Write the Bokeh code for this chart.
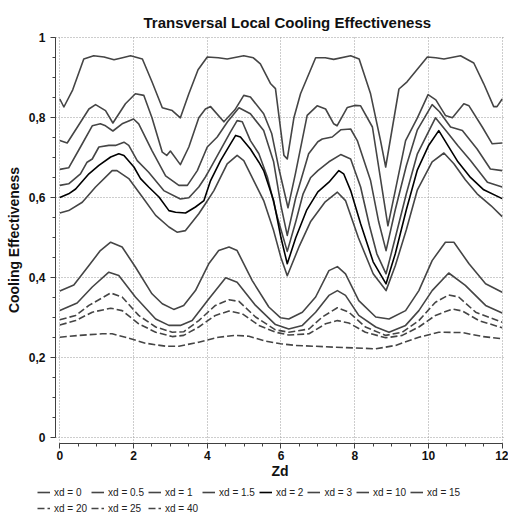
from bokeh.plotting import figure
from bokeh.models import Range1d, FixedTicker, CustomJSTickFormatter, Legend, LegendItem
from bokeh.embed import file_html
from bokeh.resources import INLINE

# ---------------- data ----------------
series_names = ["xd = 0", "xd = 0.5", "xd = 1", "xd = 1.5", "xd = 2", "xd = 3",
                "xd = 10", "xd = 15", "xd = 20", "xd = 25", "xd = 40"]

x_xd0 = [0, 0.11, 0.35, 0.65, 0.92, 1.2, 1.47, 1.7, 1.92, 2.24, 2.5, 2.78, 3.05, 3.27, 3.5, 3.75, 4.0, 4.3, 4.54,
         4.99, 5.25, 5.44, 5.72, 5.85, 6.0, 6.08, 6.17, 6.35, 6.53, 6.94, 7.2, 7.43, 7.89, 8.12, 8.43, 8.7, 8.84,
         9.2, 9.42, 9.97, 10.2, 10.42, 10.87, 11.23, 11.5, 11.77, 11.86, 12.0]
y_xd0 = [0.847, 0.827, 0.87, 0.947, 0.955, 0.952, 0.945, 0.95, 0.955, 0.947, 0.89, 0.825, 0.818, 0.80, 0.86, 0.92,
         0.952, 0.95, 0.947, 0.955, 0.95, 0.935, 0.885, 0.873, 0.764, 0.706, 0.697, 0.80, 0.86, 0.95, 0.95, 0.946,
         0.955, 0.947, 0.86, 0.743, 0.677, 0.872, 0.89, 0.952, 0.95, 0.947, 0.955, 0.937, 0.885, 0.828, 0.828, 0.847]

x_xd05 = [0, 0.2, 0.5, 0.79, 0.97, 1.24, 1.44, 1.78, 2.05, 2.28, 2.5, 2.78, 2.9, 3.0, 3.27, 3.5, 3.77, 3.95, 4.09,
          4.45, 4.75, 4.99, 5.17, 5.53, 5.75, 5.95, 6.19, 6.39, 6.71, 6.98, 7.21, 7.43, 7.52, 7.8, 8.0, 8.16, 8.48,
          8.75, 8.9, 9.1, 9.38, 9.7, 9.99, 10.2, 10.46, 10.65, 10.96, 11.1, 11.46, 11.73, 12.0]
y_xd05 = [0.743, 0.737, 0.78, 0.822, 0.833, 0.818, 0.787, 0.835, 0.86, 0.856, 0.80, 0.714, 0.706, 0.717, 0.683,
          0.727, 0.80, 0.822, 0.828, 0.79, 0.82, 0.856, 0.852, 0.81, 0.76, 0.67, 0.575, 0.66, 0.806, 0.83, 0.822,
          0.785, 0.78, 0.826, 0.831, 0.83, 0.777, 0.618, 0.53, 0.618, 0.743, 0.80, 0.858, 0.845, 0.806, 0.80,
          0.835, 0.83, 0.777, 0.735, 0.737]

x_xd1 = [0, 0.24, 0.56, 0.88, 1.1, 1.24, 1.44, 1.69, 2.0, 2.14, 2.5, 2.87, 3.23, 3.46, 3.73, 4.0, 4.27, 4.55, 4.86,
         5.17, 5.53, 5.8, 6.0, 6.17, 6.4, 6.75, 7.0, 7.12, 7.39, 7.62, 7.89, 8.07, 8.43, 8.65, 8.85, 9.1, 9.4, 9.7,
         10.1, 10.3, 10.6, 10.92, 11.32, 11.68, 12.0]
y_xd1 = [0.671, 0.675, 0.727, 0.78, 0.785, 0.78, 0.767, 0.785, 0.797, 0.785, 0.718, 0.655, 0.631, 0.631, 0.668,
         0.727, 0.752, 0.79, 0.825, 0.81, 0.768, 0.69, 0.58, 0.506, 0.60, 0.71, 0.74, 0.747, 0.752, 0.77, 0.772,
         0.743, 0.643, 0.54, 0.468, 0.57, 0.68, 0.77, 0.833, 0.815, 0.777, 0.768, 0.722, 0.672, 0.668]

x_xd15 = [0, 0.24, 0.56, 0.74, 0.88, 1.06, 1.33, 1.51, 1.74, 1.87, 2.1, 2.41, 2.82, 3.27, 3.5, 3.77, 3.95, 4.09,
          4.36, 4.63, 4.81, 4.95, 5.17, 5.4, 5.63, 5.9, 6.17, 6.4, 6.6, 6.8, 7.0, 7.3, 7.62, 7.89, 8.16, 8.4, 8.6,
          8.85, 9.1, 9.4, 9.7, 10.19, 10.51, 10.8, 11.14, 11.6, 12.0]
y_xd15 = [0.631, 0.635, 0.66, 0.689, 0.697, 0.727, 0.731, 0.731, 0.739, 0.731, 0.693, 0.664, 0.618, 0.597, 0.60,
          0.627, 0.652, 0.675, 0.72, 0.765, 0.793, 0.79, 0.743, 0.71, 0.652, 0.552, 0.466, 0.54, 0.61, 0.65, 0.668,
          0.69, 0.708, 0.697, 0.627, 0.53, 0.46, 0.41, 0.50, 0.61, 0.71, 0.80, 0.764, 0.73, 0.693, 0.639, 0.627]

x_xd2 = [0, 0.24, 0.43, 0.79, 1.06, 1.38, 1.6, 1.74, 2.01, 2.19, 2.41, 2.69, 2.96, 3.14, 3.41, 3.68, 3.91, 4.09,
         4.36, 4.63, 4.77, 4.9, 5.17, 5.4, 5.53, 5.8, 6.0, 6.17, 6.4, 6.7, 7.0, 7.3, 7.57, 7.7, 7.89, 8.16, 8.5,
         8.85, 9.1, 9.4, 9.7, 10.0, 10.28, 10.5, 10.8, 11.14, 11.5, 12.0]
y_xd2 = [0.601, 0.61, 0.622, 0.66, 0.681, 0.702, 0.71, 0.706, 0.677, 0.648, 0.627, 0.602, 0.568, 0.564, 0.562,
         0.577, 0.593, 0.643, 0.693, 0.735, 0.756, 0.752, 0.722, 0.689, 0.668, 0.593, 0.50, 0.435, 0.50, 0.57,
         0.615, 0.639, 0.668, 0.66, 0.618, 0.535, 0.44, 0.385, 0.46, 0.57, 0.67, 0.73, 0.768, 0.735, 0.69, 0.651,
         0.62, 0.598]

x_xd3 = [0, 0.24, 0.61, 0.97, 1.42, 1.55, 1.87, 2.24, 2.6, 2.96, 3.18, 3.41, 3.77, 3.95, 4.18, 4.54, 4.81, 4.99,
         5.26, 5.53, 5.8, 6.0, 6.17, 6.5, 6.8, 7.2, 7.53, 7.75, 8.1, 8.5, 8.85, 9.1, 9.4, 9.7, 10.1, 10.42, 10.69,
         11.0, 11.32, 11.7, 12.0]
y_xd3 = [0.562, 0.568, 0.589, 0.627, 0.668, 0.668, 0.648, 0.602, 0.556, 0.527, 0.514, 0.518, 0.56, 0.585, 0.618,
         0.685, 0.706, 0.693, 0.643, 0.593, 0.518, 0.45, 0.405, 0.48, 0.54, 0.59, 0.614, 0.593, 0.50, 0.41, 0.368,
         0.43, 0.52, 0.62, 0.69, 0.712, 0.685, 0.645, 0.61, 0.58, 0.553]

x_xd10 = [0, 0.38, 0.79, 1.1, 1.38, 1.69, 2.05, 2.5, 2.78, 3.09, 3.36, 3.68, 4.04, 4.31, 4.59, 4.81, 5.22, 5.67,
          5.99, 6.21, 6.58, 6.94, 7.3, 7.53, 7.75, 8.11, 8.57, 8.93, 9.38, 9.74, 10.1, 10.46, 10.69, 11.1, 11.55,
          12.0]
y_xd10 = [0.367, 0.382, 0.431, 0.468, 0.489, 0.477, 0.427, 0.36, 0.335, 0.321, 0.331, 0.368, 0.435, 0.468, 0.477,
          0.468, 0.393, 0.327, 0.30, 0.297, 0.314, 0.352, 0.418, 0.428, 0.41, 0.343, 0.302, 0.297, 0.318, 0.368,
          0.443, 0.489, 0.489, 0.435, 0.385, 0.364]

x_xd15b = [0, 0.47, 0.88, 1.33, 1.6, 2.05, 2.6, 2.96, 3.27, 3.59, 4.04, 4.5, 4.81, 5.31, 5.85, 6.21, 6.58, 6.94,
           7.3, 7.53, 7.75, 8.11, 8.57, 8.93, 9.38, 9.74, 10.1, 10.55, 11.0, 11.55, 12.0]
y_xd15b = [0.318, 0.337, 0.377, 0.414, 0.406, 0.352, 0.297, 0.281, 0.281, 0.293, 0.347, 0.40, 0.389, 0.331, 0.283,
           0.272, 0.281, 0.314, 0.356, 0.368, 0.356, 0.306, 0.277, 0.264, 0.281, 0.318, 0.368, 0.412, 0.381, 0.331,
           0.312]

x_xd20 = [0, 0.43, 0.79, 1.38, 1.69, 2.14, 2.6, 3.05, 3.36, 3.77, 4.22, 4.59, 4.86, 5.31, 5.85, 6.21, 6.76, 7.12,
          7.53, 7.84, 8.29, 8.84, 9.29, 9.74, 10.19, 10.55, 10.82, 11.28, 12.0]
y_xd20 = [0.295, 0.306, 0.331, 0.362, 0.352, 0.306, 0.277, 0.264, 0.265, 0.293, 0.331, 0.345, 0.341, 0.302, 0.27,
          0.264, 0.272, 0.302, 0.325, 0.314, 0.277, 0.256, 0.264, 0.293, 0.339, 0.357, 0.352, 0.314, 0.289]

x_xd25 = [0, 0.43, 0.88, 1.38, 1.69, 2.14, 2.6, 3.05, 3.36, 3.77, 4.22, 4.59, 4.95, 5.4, 5.85, 6.21, 6.76, 7.21,
          7.53, 7.84, 8.29, 8.84, 9.29, 9.74, 10.19, 10.65, 10.92, 11.37, 12.0]
y_xd25 = [0.282, 0.293, 0.314, 0.324, 0.318, 0.285, 0.264, 0.253, 0.256, 0.277, 0.306, 0.317, 0.31, 0.281, 0.264,
          0.257, 0.26, 0.285, 0.293, 0.287, 0.264, 0.25, 0.256, 0.277, 0.306, 0.322, 0.317, 0.293, 0.275]

x_xd40 = [0, 0.52, 1.15, 1.42, 1.78, 2.32, 2.87, 3.23, 3.77, 4.31, 4.77, 5.13, 5.58, 5.99, 6.39, 7.48, 8.57, 9.11,
          9.74, 10.28, 10.92, 11.46, 12.0]
y_xd40 = [0.2515, 0.256, 0.26, 0.26, 0.2515, 0.2365, 0.229, 0.229, 0.239, 0.2515, 0.256, 0.254, 0.2415, 0.235,
          0.231, 0.2265, 0.2225, 0.231, 0.2515, 0.264, 0.263, 0.2533, 0.2475]

x_ticks = [0, 2, 4, 6, 8, 10, 12]
y_ticks = [0, 0.2, 0.4, 0.6, 0.8, 1.0]

series_x = [x_xd0, x_xd05, x_xd1, x_xd15, x_xd2, x_xd3, x_xd10, x_xd15b, x_xd20, x_xd25, x_xd40]
series_y = [y_xd0, y_xd05, y_xd1, y_xd15, y_xd2, y_xd3, y_xd10, y_xd15b, y_xd20, y_xd25, y_xd40]

# ---------------- main figure ----------------
FONT = "Liberation Sans"
p = figure(width=508, height=481, output_backend="svg", toolbar_location=None,
           x_range=Range1d(-0.117, 12.063), y_range=Range1d(-0.01425, 1.00325),
           min_border_left=55, min_border_right=4, min_border_top=36, min_border_bottom=38,
           title="Transversal Local Cooling Effectiveness")
p.outline_line_color = None
p.background_fill_color = "white"
p.border_fill_color = "white"

p.title.align = "left"
p.title.offset = 88
p.title.standoff = 12
p.title.text_font = FONT
p.title.text_font_size = "15px"
p.title.text_font_style = "bold"
p.title.text_color = "#111111"

minor_x = [0.5 * i for i in range(25)]
minor_y = [round(0.05 * i, 2) for i in range(21)]
p.xaxis.ticker = FixedTicker(ticks=x_ticks, minor_ticks=minor_x)
p.yaxis.ticker = FixedTicker(ticks=y_ticks, minor_ticks=minor_y)
p.xgrid.ticker = FixedTicker(ticks=x_ticks)
p.ygrid.ticker = FixedTicker(ticks=y_ticks)
p.xaxis.bounds = (0, 12)
p.yaxis.bounds = (0, 1)
p.yaxis.formatter = CustomJSTickFormatter(code="return String(Math.round(tick*10)/10).replace('.', ',');")

for ax in (p.xaxis, p.yaxis):
    ax.axis_line_color = "#404040"
    ax.major_tick_line_color = "#404040"
    ax.minor_tick_line_color = "#404040"
    ax.major_tick_out = 5
    ax.major_tick_in = 0
    ax.minor_tick_out = 3
    ax.minor_tick_in = 0
    ax.major_label_text_font = FONT
    ax.major_label_text_font_size = "12px"
    ax.major_label_text_font_style = "bold"
    ax.major_label_text_color = "#111111"
    ax.axis_label_text_font = FONT
    ax.axis_label_text_font_size = "14px"
    ax.axis_label_text_font_style = "bold"
    ax.axis_label_text_color = "#111111"

p.xaxis.axis_label = "Zd"
p.yaxis.axis_label = "Cooling Effectiveness"
p.xaxis.major_label_standoff = 2
p.xaxis.axis_label_standoff = 0
p.yaxis.major_label_standoff = 5
p.yaxis.axis_label_standoff = 4

for g in (p.xgrid, p.ygrid):
    g.grid_line_color = "#9a9a9a"
    g.grid_line_dash = "1 2"
    g.grid_line_width = 1

# ---------------- legend strip (separate root, not frame-aligned) ----------------
q = figure(width=508, height=33, output_backend="svg", toolbar_location=None,
           x_range=Range1d(0, 1), y_range=Range1d(0, 1),
           x_axis_location=None, y_axis_location=None, min_border=0)
q.outline_line_color = None
q.xgrid.visible = False
q.ygrid.visible = False

items = []
for i, (name, xs, ys) in enumerate(zip(series_names, series_x, series_y)):
    dashed = i >= 8
    color = "#000000" if name == "xd = 2" else "#454545"
    style = dict(line_color=color, line_width=1.6,
                 line_dash="7 3" if dashed else "solid", line_join="round")
    p.line(xs, ys, **style)
    # legend proxy drawn with the same series (lies outside this strip's visible range)
    r = q.line(xs, [-v for v in ys], **style)
    items.append(LegendItem(label=name, renderers=[r]))

legend = Legend(items=items, orientation="horizontal", ncols=8,
                location=(37, 0), padding=0, margin=0, spacing=4,
                glyph_width=13, glyph_height=12, label_height=12, label_standoff=4,
                label_text_font=FONT, label_text_font_size="10px", label_text_color="#222222",
                border_line_color=None, background_fill_alpha=0)
q.add_layout(legend)

open("out.html", "w").write(file_html([p, q], INLINE))
